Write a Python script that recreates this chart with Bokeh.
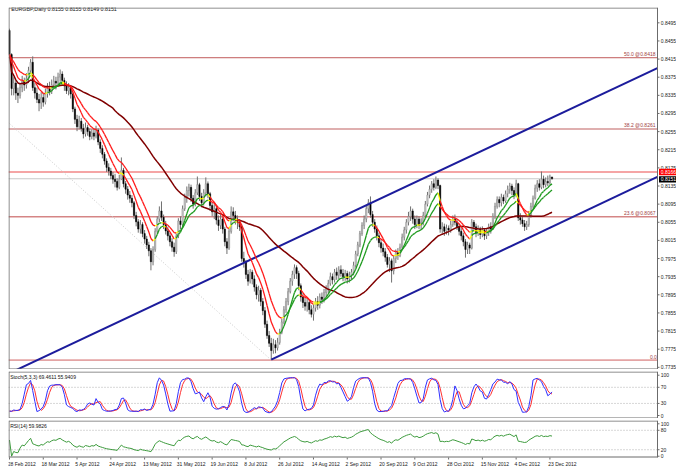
import numpy as np
import pandas as pd
from bokeh.plotting import figure
from bokeh.layouts import column
from bokeh.models import Range1d
from bokeh.core.properties import value
from bokeh.embed import file_html
from bokeh.resources import INLINE

# ---------------- data ----------------
first_open = 0.8478
close = [
.8425,.8350,.8362,.8340,.8335,.8352,.8366,.8358,.8372,.8390,
.8408,.8352,.8340,.8326,.8318,.8330,.8320,.8338,.8350,.8344,
.8358,.8366,.8362,.8375,.8382,.8368,.8356,.8345,.8352,.8338,
.8305,.8282,.8266,.8278,.8262,.8250,.8264,.8255,.8244,.8252,
.8245,.8258,.8232,.8218,.8205,.8190,.8176,.8168,.8158,.8150,
.8145,.8132,.8150,.8170,.8140,.8128,.8115,.8108,.8098,.8070,
.8056,.8040,.8050,.8030,.8018,.8005,.7992,.7968,.7995,.8035,
.8062,.8080,.8066,.8050,.8036,.8025,.8012,.8000,.7990,.8025,
.8058,.8050,.8085,.8110,.8125,.8132,.8108,.8095,.8120,.8138,
.8112,.8098,.8120,.8140,.8118,.8092,.8078,.8085,.8060,.8048,
.8062,.8040,.8012,.7998,.8035,.8078,.8070,.8062,.8055,.8045,
.7975,.7968,.7940,.7925,.7945,.7930,.7912,.7895,.7905,.7880,
.7860,.7830,.7805,.7788,.7772,.7785,.7778,.7790,.7812,.7835,
.7862,.7880,.7902,.7925,.7940,.7955,.7942,.7915,.7890,.7878,
.7870,.7878,.7862,.7852,.7866,.7880,.7872,.7890,.7885,.7900,
.7908,.7920,.7935,.7928,.7945,.7938,.7950,.7942,.7935,.7942,
.7930,.7938,.7945,.7960,.7985,.8005,.8030,.8048,.8062,.8085,
.8098,.8072,.8055,.8040,.8025,.8010,.7998,.7990,.7978,.7962,
.7970,.7948,.7975,.7988,.7982,.8000,.8022,.8038,.8055,.8068,
.8080,.8062,.8050,.8062,.8048,.8055,.8070,.8095,.8115,.8128,
.8140,.8132,.8148,.8136,.8040,.8045,.8035,.8042,.8038,.8050,
.8062,.8055,.8045,.8035,.8025,.8012,.7995,.8005,.7998,.8055,
.8045,.8032,.8040,.8028,.8038,.8025,.8032,.8045,.8040,.8068,
.8090,.8105,.8098,.8110,.8102,.8118,.8128,.8135,.8125,.8115,
.8140,.8065,.8060,.8052,.8045,.8050,.8072,.8090,.8108,.8130,
.8140,.8132,.8150,.8138,.8145,.8142,.8155,.8151]
high = [
.8482,.8428,.8375,.8368,.8352,.8360,.8378,.8374,.8384,.8398,
.8415,.8421,.8362,.8352,.8338,.8342,.8340,.8350,.8362,.8365,
.8370,.8378,.8376,.8385,.8392,.8388,.8374,.8366,.8362,.8358,
.8342,.8310,.8292,.8290,.8285,.8272,.8275,.8270,.8262,.8260,
.8262,.8268,.8262,.8238,.8225,.8210,.8196,.8185,.8175,.8166,
.8162,.8152,.8160,.8198,.8175,.8146,.8135,.8124,.8115,.8102,
.8078,.8062,.8060,.8055,.8038,.8025,.8012,.7998,.8002,.8042,
.8068,.8090,.8101,.8072,.8058,.8045,.8032,.8020,.8010,.8030,
.8064,.8068,.8092,.8118,.8134,.8140,.8138,.8115,.8128,.8156,
.8142,.8120,.8128,.8154,.8145,.8122,.8098,.8095,.8090,.8070,
.8072,.8066,.8045,.8020,.8042,.8090,.8088,.8080,.8070,.8062,
.8050,.7990,.7972,.7950,.7952,.7950,.7938,.7918,.7915,.7910,
.7888,.7868,.7838,.7815,.7800,.7798,.7795,.7800,.7820,.7842,
.7870,.7888,.7910,.7932,.7948,.7962,.7960,.7948,.7920,.7898,
.7888,.7888,.7885,.7872,.7874,.7888,.7892,.7898,.7900,.7908,
.7916,.7928,.7944,.7942,.7952,.7955,.7958,.7960,.7952,.7950,
.7948,.7946,.7952,.7968,.7992,.8012,.8036,.8055,.8070,.8092,
.8106,.8112,.8080,.8062,.8048,.8032,.8018,.8008,.7998,.7985,
.7978,.7975,.7982,.7995,.7998,.8008,.8030,.8045,.8062,.8078,
.8090,.8085,.8070,.8070,.8068,.8064,.8078,.8102,.8122,.8136,
.8146,.8150,.8156,.8152,.8138,.8055,.8052,.8050,.8048,.8058,
.8070,.8072,.8062,.8052,.8042,.8032,.8018,.8012,.8010,.8062,
.8060,.8052,.8048,.8045,.8046,.8042,.8040,.8052,.8055,.8075,
.8098,.8112,.8112,.8118,.8116,.8125,.8136,.8142,.8140,.8132,
.8149,.8142,.8075,.8068,.8060,.8058,.8080,.8098,.8114,.8138,
.8148,.8150,.8167,.8158,.8154,.8158,.8160,.8155]
low = [
.8418,.8335,.8335,.8325,.8318,.8328,.8342,.8345,.8350,.8362,
.8385,.8345,.8328,.8318,.8300,.8305,.8310,.8315,.8330,.8335,
.8338,.8350,.8348,.8355,.8365,.8356,.8345,.8338,.8335,.8328,
.8298,.8272,.8256,.8260,.8255,.8240,.8244,.8246,.8236,.8238,
.8236,.8240,.8225,.8208,.8196,.8182,.8166,.8158,.8150,.8140,
.8132,.8125,.8128,.8148,.8132,.8118,.8105,.8098,.8088,.8062,
.8046,.8032,.8030,.8022,.8008,.7996,.7980,.7949,.7960,.7990,
.8030,.8055,.8058,.8040,.8028,.8015,.8002,.7990,.7979,.7985,
.8020,.8040,.8045,.8080,.8098,.8112,.8100,.8085,.8090,.8115,
.8102,.8088,.8092,.8112,.8108,.8080,.8068,.8062,.8050,.8036,
.8040,.8030,.8002,.7985,.7994,.8030,.8058,.8050,.8040,.8036,
.7968,.7955,.7930,.7915,.7920,.7918,.7902,.7885,.7880,.7870,
.7850,.7822,.7798,.7780,.7752,.7765,.7766,.7772,.7785,.7808,
.7830,.7855,.7872,.7898,.7915,.7930,.7930,.7905,.7880,.7866,
.7860,.7858,.7852,.7845,.7838,.7858,.7862,.7865,.7875,.7878,
.7890,.7898,.7915,.7918,.7922,.7928,.7930,.7935,.7925,.7926,
.7920,.7922,.7928,.7938,.7955,.7980,.8000,.8025,.8040,.8055,
.8075,.8065,.8045,.8032,.8015,.8000,.7988,.7980,.7968,.7955,
.7945,.7922,.7940,.7965,.7972,.7978,.7995,.8015,.8030,.8048,
.8058,.8052,.8040,.8042,.8040,.8038,.8048,.8065,.8090,.8108,
.8120,.8125,.8128,.8128,.8032,.8030,.8025,.8028,.8026,.8032,
.8045,.8048,.8038,.8026,.8015,.8002,.7977,.7985,.7985,.7995,
.8035,.8022,.8025,.8018,.8022,.8016,.8018,.8025,.8030,.8038,
.8062,.8085,.8088,.8090,.8095,.8098,.8110,.8118,.8115,.8106,
.8110,.8058,.8050,.8045,.8036,.8038,.8045,.8065,.8085,.8105,
.8122,.8125,.8128,.8130,.8132,.8135,.8138,.8149]

date_labels = ["28 Feb 2012", "18 Mar 2012", "5 Apr 2012", "24 Apr 2012", "13 May 2012",
               "31 May 2012", "19 Jun 2012", "8 Jul 2012", "26 Jul 2012", "14 Aug 2012",
               "2 Sep 2012", "20 Sep 2012", "9 Oct 2012", "28 Oct 2012", "15 Nov 2012",
               "4 Dec 2012", "23 Dec 2012"]
date_label_bars = [0, 16, 32, 48, 64, 80, 96, 112, 128, 144, 160, 176, 192, 208, 224, 240, 256]
price_ticks = [0.7735, 0.7775, 0.7815, 0.7855, 0.7895, 0.7935, 0.7975, 0.8015, 0.8055, 0.8095,
               0.8135, 0.8175, 0.8215, 0.8255, 0.8295, 0.8335, 0.8375, 0.8415, 0.8455, 0.8495]
price_tick_labels = ["0.7735", "0.7775", "0.7815", "0.7855", "0.7895", "0.7935", "0.7975",
                     "0.8015", "0.8055", "0.8095", "0.8135", "0.8175", "0.8215", "0.8255",
                     "0.8295", "0.8335", "0.8375", "0.8415", "0.8455", "0.8495"]
fib_levels = [0.8418, 0.8261, 0.8067, 0.7751]
fib_texts = ["50.0  @0.8418", "38.2  @0.8261", "23.6  @0.8067", "0.0"]
fib_colors = ["#c05a5a", "#d49494", "#c04a4a", "#d06060"]
fib_widths = [1, 1.5, 1, 1]
alert_level = 0.8166
alert_text = "0.8166"
bid_level = 0.8151
bid_text = "0.8151"
# trend channel anchors (bar index, price)
upper_x = [0, 306.9]
upper_y = [0.7722, 0.8395]
lower_x = [124, 306.9]
lower_y = [0.7752, 0.8155]
fibline_x = [-1, 124]
fibline_y = [0.8277, 0.7751]
stoch_ticks = [0, 30, 70, 100]
stoch_levels = [30, 70]
rsi_ticks = [0, 20, 80, 100]
rsi_levels = [20, 80]
header = "EURGBP,Daily  0.8155 0.8155 0.8149 0.8151"
stoch_title = "Stoch(5,3,3) 69.4611 55.9409"
rsi_title = "RSI(14) 59.9826"

# ---------------- indicators ----------------
n = len(close)
idx = np.arange(n)
c = pd.Series(close); h = pd.Series(high); l = pd.Series(low)
opens = [first_open] + close[:-1]

fast = c.ewm(span=8, adjust=False).mean().values
slow = c.ewm(span=15, adjust=False).mean().values
ma50 = c.rolling(50, min_periods=1).mean().values

ll = l.rolling(5, min_periods=1).min(); hh = h.rolling(5, min_periods=1).max()
num = (c - ll).rolling(3, min_periods=1).sum(); den = (hh - ll).rolling(3, min_periods=1).sum()
k = (100 * num / den).fillna(50)
d = k.rolling(3, min_periods=1).mean()

delta = c.diff().fillna(0)
gain = delta.clip(lower=0); loss = -delta.clip(upper=0)
ag = gain.ewm(alpha=1/14, adjust=False).mean(); al = loss.ewm(alpha=1/14, adjust=False).mean()
rsi = (100 * ag / (ag + al)).fillna(50)

# ---------------- geometry ----------------
FONT = value("Liberation Sans")
FS = value("5px")
FSH = value("5.3px")
PXB = 2.111                  # px per bar
W = 668
ML = 8                       # page margin (template has none)
X0 = -0.47
AX = 306.97                  # chart right edge (price scale line)
X1 = X0 + W / PXB
xr = Range1d(X0, X1)
BORDER = "#6b6b6b"
TXT = "#202020"


def make_fig(fh, y0, y1, top):
    f = figure(frame_width=W, frame_height=fh, x_range=xr, y_range=Range1d(y0, y1),
               output_backend="svg", toolbar_location=None,
               x_axis_location=None, y_axis_location=None,
               min_border_left=ML, min_border_right=0, min_border_top=top, min_border_bottom=0)
    f.grid.visible = False
    f.outline_line_color = None
    f.background_fill_color = "white"
    f.border_fill_color = "white"
    return f


def frame_box(f, ytop, ybot, ppu):
    dy = 0.5 / ppu
    dx = 0.5 / PXB
    f.line([X0 + dx, AX], [ytop - dy, ytop - dy], line_color=BORDER, line_width=1)
    f.line([X0 + dx, AX], [ybot + dy, ybot + dy], line_color=BORDER, line_width=1)
    f.line([X0 + dx, X0 + dx], [ybot, ytop], line_color=BORDER, line_width=1)
    f.line([AX, AX], [ybot, ytop], line_color=BORDER, line_width=1)


def scale(f, ticks, labels):
    f.segment(x0=[AX] * len(ticks), y0=ticks, x1=[AX + 2 / PXB] * len(ticks), y1=ticks,
              line_color=BORDER, line_width=1)
    f.text(x=[AX + 3.2 / PXB] * len(ticks), y=ticks, text=labels, text_font=FONT,
           text_font_size=FS, text_color=TXT, text_align="left", text_baseline="middle")


# ---------------- main price panel ----------------
MY0, MY1 = 0.77302, 0.85288
MPPU = 362 / (MY1 - MY0)
p = make_fig(362, MY0, MY1, 7)

for lev, col, w in zip(fib_levels, fib_colors, fib_widths):
    p.line([X0, AX], [lev, lev], line_color=col, line_width=w)
p.line([X0, AX], [alert_level, alert_level], line_color="#f5a5a5", line_width=2)
p.line([X0, AX], [bid_level, bid_level], line_color="#c8c8c8", line_width=1)
p.line(fibline_x, fibline_y, line_color="#c8c8c8", line_dash="1 2", line_width=1)

# candles
up = [cc >= oo for cc, oo in zip(close, opens)]
p.segment(x0=idx, y0=low, x1=idx, y1=high, line_color="#707070", line_width=1)
tops = [max(a, b) for a, b in zip(opens, close)]
bots = [min(a, b) for a, b in zip(opens, close)]
bots = [b if t - b > 0.00005 else b - 0.00003 for t, b in zip(tops, bots)]
colors = ["#d8d8d8" if u else "#000000" for u in up]
lcols = ["#808080" if u else "#000000" for u in up]
p.vbar(x=idx, width=0.6, top=tops, bottom=bots, fill_color=colors, line_color=lcols, line_width=0.5)

# channel
p.line(upper_x, upper_y, line_color="#1c1c9c", line_width=2)
p.line(lower_x, lower_y, line_color="#1c1c9c", line_width=2)

# moving averages
p.line(idx, ma50, line_color="#800000", line_width=1.5)


def slope_segments(vals):
    x0, y0, x1, y1, cols = [], [], [], [], []
    prev = None
    for i in range(len(vals) - 1):
        rising = vals[i + 1] >= vals[i]
        col = "#1e9a1e" if rising else "#ff1a1a"
        if prev is not None and rising != prev:
            col = "#ffff00"
        prev = rising
        x0.append(i); y0.append(vals[i]); x1.append(i + 1); y1.append(vals[i + 1]); cols.append(col)
    return x0, y0, x1, y1, cols


for vals in (slow, fast):
    a, b, cx, dy_, cols = slope_segments(vals)
    p.segment(x0=a, y0=b, x1=cx, y1=dy_, line_color=cols, line_width=1.3)

p.text(x=[AX - 0.3] * len(fib_levels), y=[lv + 0.7 / MPPU for lv in fib_levels], text=fib_texts,
       text_font=FONT, text_font_size=FS, text_color="#a04040",
       text_align="right", text_baseline="bottom")
p.text(x=[0.8], y=[0.8526], text=[header], text_font=FONT, text_font_size=FSH,
       text_color="#101010", text_align="left", text_baseline="middle")

frame_box(p, MY1, MY0, MPPU)
scale(p, price_ticks, price_tick_labels)

# current price boxes on the scale
bx0 = AX + 1.5 / PXB
bx1 = AX + 19.5 / PXB
hh_ = 3.2 / MPPU
p.quad(left=[bx0], right=[bx1], top=[alert_level + hh_], bottom=[alert_level - hh_],
       fill_color="#ff0000", line_color=None)
p.quad(left=[bx0], right=[bx1], top=[bid_level - 0.6 / MPPU + hh_], bottom=[bid_level - 0.6 / MPPU - hh_],
       fill_color="#000000", line_color=None)
p.text(x=[AX + 3.2 / PXB, AX + 3.2 / PXB], y=[alert_level, bid_level - 0.6 / MPPU],
       text=[alert_text, bid_text], text_font=FONT, text_font_size=FS, text_color="white",
       text_align="left", text_baseline="middle")

# ---------------- stochastic panel ----------------
SY0, SY1 = -7.4, 109.2
SPPU = 47 / (SY1 - SY0)
s = make_fig(47, SY0, SY1, 2)
for lev in stoch_levels:
    s.line([X0, AX], [lev, lev], line_color="#b0b0b0", line_dash="1 2", line_width=1)
s.line(idx, d.values, line_color="#ff3030", line_width=1)
s.line(idx, k.values, line_color="#3030ff", line_width=1)
s.text(x=[0.3], y=[96.5], text=[stoch_title], text_font=FONT, text_font_size=FS,
       text_color="#101010", text_align="left", text_baseline="middle")
frame_box(s, SY1, SY0, SPPU)
scale(s, stoch_ticks, [str(t) for t in stoch_ticks])

# ---------------- RSI panel (with date row) ----------------
RPPU = 37 / 114.2
RY1 = 110.2
RYB = -4.0                     # bottom of RSI pane
RY0 = RYB - 12 / RPPU          # extra room for date labels
r = make_fig(49, RY0, RY1, 2)
for lev in rsi_levels:
    r.line([X0, AX], [lev, lev], line_color="#b0b0b0", line_dash="1 2", line_width=1)
r.line(idx, rsi.values, line_color="#3c9a3c", line_width=1)
r.text(x=[0.3], y=[93.5], text=[rsi_title], text_font=FONT, text_font_size=FS,
       text_color="#101010", text_align="left", text_baseline="middle")
frame_box(r, RY1, RYB, RPPU)
scale(r, rsi_ticks, [str(t) for t in rsi_ticks])
r.text(x=[b - 0.8 for b in date_label_bars], y=[RYB - 6.5 / RPPU] * len(date_labels), text=date_labels,
       text_font=FONT, text_font_size=FS, text_color=TXT, text_align="left", text_baseline="middle")
r.segment(x0=[b for b in date_label_bars], y0=[RYB] * len(date_label_bars),
          x1=[b for b in date_label_bars], y1=[RYB - 2 / RPPU] * len(date_label_bars),
          line_color=BORDER, line_width=1)

layout = column(p, s, r, spacing=0)
open("out.html", "w").write(file_html(layout, INLINE))
